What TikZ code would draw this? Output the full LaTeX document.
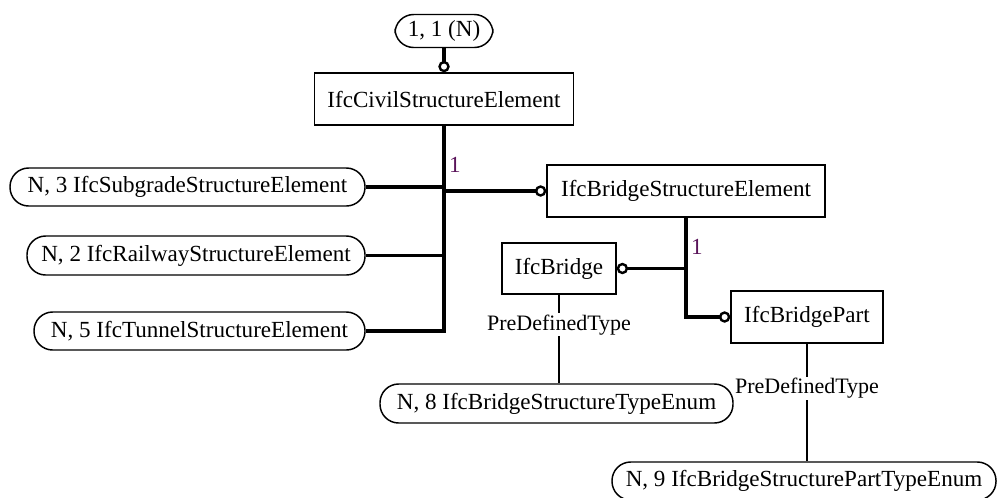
\documentclass[tikz,border=0pt]{standalone}
\usepackage{fontspec}
\setmainfont{Liberation Serif}
\usetikzlibrary{arrows.meta}

\begin{document}
\begin{tikzpicture}[x=0.75pt, y=-0.75pt,
    every node/.style={font=\fontsize{17.3}{19}\selectfont},
    sz/.style 2 args={minimum width=#1*0.75pt, minimum height=#2*0.75pt},
    ent/.style={draw, line width=1.1pt, inner sep=0pt},
    typ/.style={draw, line width=1.1pt, rounded corners=14pt, inner sep=0pt},
    rel/.style={line width=2.5pt},
    sub/.style={rel, -{Circle[open, length=8.5pt, width=8.5pt, line width=1.8pt]}},
    attr/.style={line width=1pt},
    mult/.style={text={rgb,255:red,90;green,20;blue,90}},
    lbl/.style={fill=white, inner sep=1pt, font=\fontsize{16.5}{18}\selectfont}]

    % Поле рисунка
    \useasboundingbox (0,0) rectangle (998,497);

    % Сущности
    \node[typ, sz={98}{33}] (top) at (444,31) {1, 1 (N)};
    \node[ent, sz={259}{52}] (civil) at (444,99) {IfcCivilStructureElement};
    \node[typ, sz={355}{38}] (subgrade) at (187.5,187) {N, 3 IfcSubgradeStructureElement};
    \node[typ, sz={338}{39}] (railway) at (196,255.5) {N, 2 IfcRailwayStructureElement};
    \node[typ, sz={331}{38}] (tunnel) at (199.5,331) {N, 5 IfcTunnelStructureElement};
    \node[ent, sz={278}{52}] (bridgese) at (686,191) {IfcBridgeStructureElement};
    \node[ent, sz={114}{51}] (bridge) at (559,268.5) {IfcBridge};
    \node[ent, sz={152}{52}] (bridgepart) at (807,317) {IfcBridgePart};
    \node[typ, sz={353}{39}] (enumb) at (556.5,403.5) {N, 8 IfcBridgeStructureTypeEnum};
    \node[typ, sz={384}{38}] (enump) at (804,481) {N, 9 IfcBridgeStructurePartTypeEnum};

    % Связи подтипов
    \draw[sub] (top) -- (civil);
    \draw[rel] (civil.south) |- (tunnel.east);
    \draw[rel] (subgrade.east) -- (subgrade.east -| civil.south);
    \draw[rel] (railway.east) -- (railway.east -| civil.south);
    \draw[sub] (civil.south |- bridgese.west) -- (bridgese.west);
    \draw[sub] (bridgese.south) |- (bridgepart.west);
    \draw[sub] (bridgese.south |- bridge.east) -- (bridge.east);

    % Кратность
    \node[mult] (onecivil) at (455,165) {1};
    \node[mult] (onebridge) at (697,247) {1};

    % Атрибуты
    \draw[attr] (bridge.south) -- node[lbl, pos=0.34] (ptbridge) {PreDefinedType} (bridge.south |- enumb.north);
    \draw[attr] (bridgepart.south) -- node[lbl, pos=0.38] (ptpart) {PreDefinedType} (bridgepart.south |- enump.north);
\end{tikzpicture}
\end{document}
